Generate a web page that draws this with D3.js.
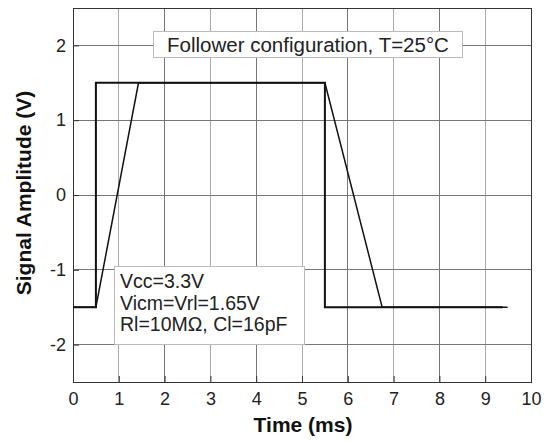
<!DOCTYPE html>
<html>
<head>
<meta charset="utf-8">
<script src="https://cdn.jsdelivr.net/npm/d3@7"></script>
<style>
html,body{margin:0;padding:0;background:#fff;}
svg text{font-family:"Liberation Sans",Arial,sans-serif;}
</style>
</head>
<body>
<svg id="chart" width="552" height="441"></svg>
<script>
const xTicks = [0,1,2,3,4,5,6,7,8,9,10];
const yTicks = [-2,-1,0,1,2];
const inputT = [0, 0.5, 0.5, 5.5, 5.5, 9.38];
const inputV = [-1.5, -1.5, 1.5, 1.5, -1.5, -1.5];
const outputT = [0, 0.5, 1.43, 5.5, 6.75, 9.49];
const outputV = [-1.5, -1.5, 1.5, 1.5, -1.5, -1.5];
const titleText = "Follower configuration, T=25°C";
const noteLines = ["Vcc=3.3V", "Vicm=Vrl=1.65V", "Rl=10MΩ, Cl=16pF"];

const svg = d3.select("#chart");
const L = 73, R = 531, T = 8, B = 382;
const x = d3.scaleLinear().domain([0,10]).range([L,R]);
const y = d3.scaleLinear().domain([-2.5,2.5]).range([B,T]);

// grid
const g = svg.append("g");
g.selectAll("line.v").data(xTicks.slice(1,-1)).enter().append("line")
  .attr("x1", d=>x(d)).attr("x2", d=>x(d)).attr("y1", T).attr("y2", B)
  .attr("stroke", d => (d%2===1 ? "#aaa" : "#777")).attr("stroke-width", 1).attr("shape-rendering","crispEdges");
g.selectAll("line.h").data(yTicks).enter().append("line")
  .attr("x1", L).attr("x2", R).attr("y1", d=>y(d)).attr("y2", d=>y(d))
  .attr("stroke", "#777").attr("stroke-width", 1).attr("shape-rendering","crispEdges");

// axes
const xAxis = d3.axisBottom(x).tickValues(xTicks).tickSize(-6).tickPadding(10).tickFormat(d3.format("d"));
const yAxis = d3.axisLeft(y).tickValues(yTicks).tickSize(-6).tickPadding(7).tickFormat(d => d<0 ? "-" + Math.abs(d) : String(d));
const xa = svg.append("g").attr("transform", `translate(0,${B})`).call(xAxis);
const ya = svg.append("g").attr("transform", `translate(${L},0)`).call(yAxis);
[xa, ya].forEach(a => {
  a.select(".domain").remove();
  a.selectAll(".tick line").attr("stroke", "#333");
  a.selectAll(".tick text").attr("fill", "#222").style("font-size", "18px");
});
// frame
svg.append("rect").attr("x", L).attr("y", T).attr("width", R-L).attr("height", B-T)
  .attr("fill", "none").attr("stroke", "#333").attr("stroke-width", 1).attr("shape-rendering","crispEdges");

// lines
const line = d3.line().x(d=>x(d[0])).y(d=>y(d[1]));
svg.append("path").datum(inputT.map((t,i)=>[t,inputV[i]]))
  .attr("d", line).attr("fill","none").attr("stroke","#111").attr("stroke-width",2);
svg.append("path").datum(outputT.map((t,i)=>[t,outputV[i]]))
  .attr("d", line).attr("fill","none").attr("stroke","#111").attr("stroke-width",1.5);

// title box
svg.append("rect").attr("x",153.5).attr("y",31.5).attr("width",309).attr("height",26)
  .attr("fill","#fff").attr("stroke","#bbb").attr("stroke-width",1);
svg.append("text").attr("x",308).attr("y",52).attr("text-anchor","middle")
  .attr("fill","#222").style("font-size","20.5px").text(titleText);

// note box
svg.append("rect").attr("x",114.5).attr("y",266.5).attr("width",190).attr("height",78)
  .attr("fill","#fff").attr("stroke","#bbb").attr("stroke-width",1);
svg.append("g").selectAll("text").data(noteLines).enter().append("text")
  .attr("x",120).attr("y",(d,i)=>288+i*21.5)
  .attr("fill","#222").style("font-size","19.5px").text(d=>d);

// axis titles
svg.append("text").attr("x",303).attr("y",432).attr("text-anchor","middle")
  .attr("fill","#111").style("font-size","21px").style("font-weight","bold").text("Time (ms)");
svg.append("text").attr("transform",`translate(31,193) rotate(-90)`).attr("text-anchor","middle")
  .attr("fill","#111").style("font-size","21px").style("font-weight","bold").text("Signal Amplitude (V)");
</script>
</body>
</html>
